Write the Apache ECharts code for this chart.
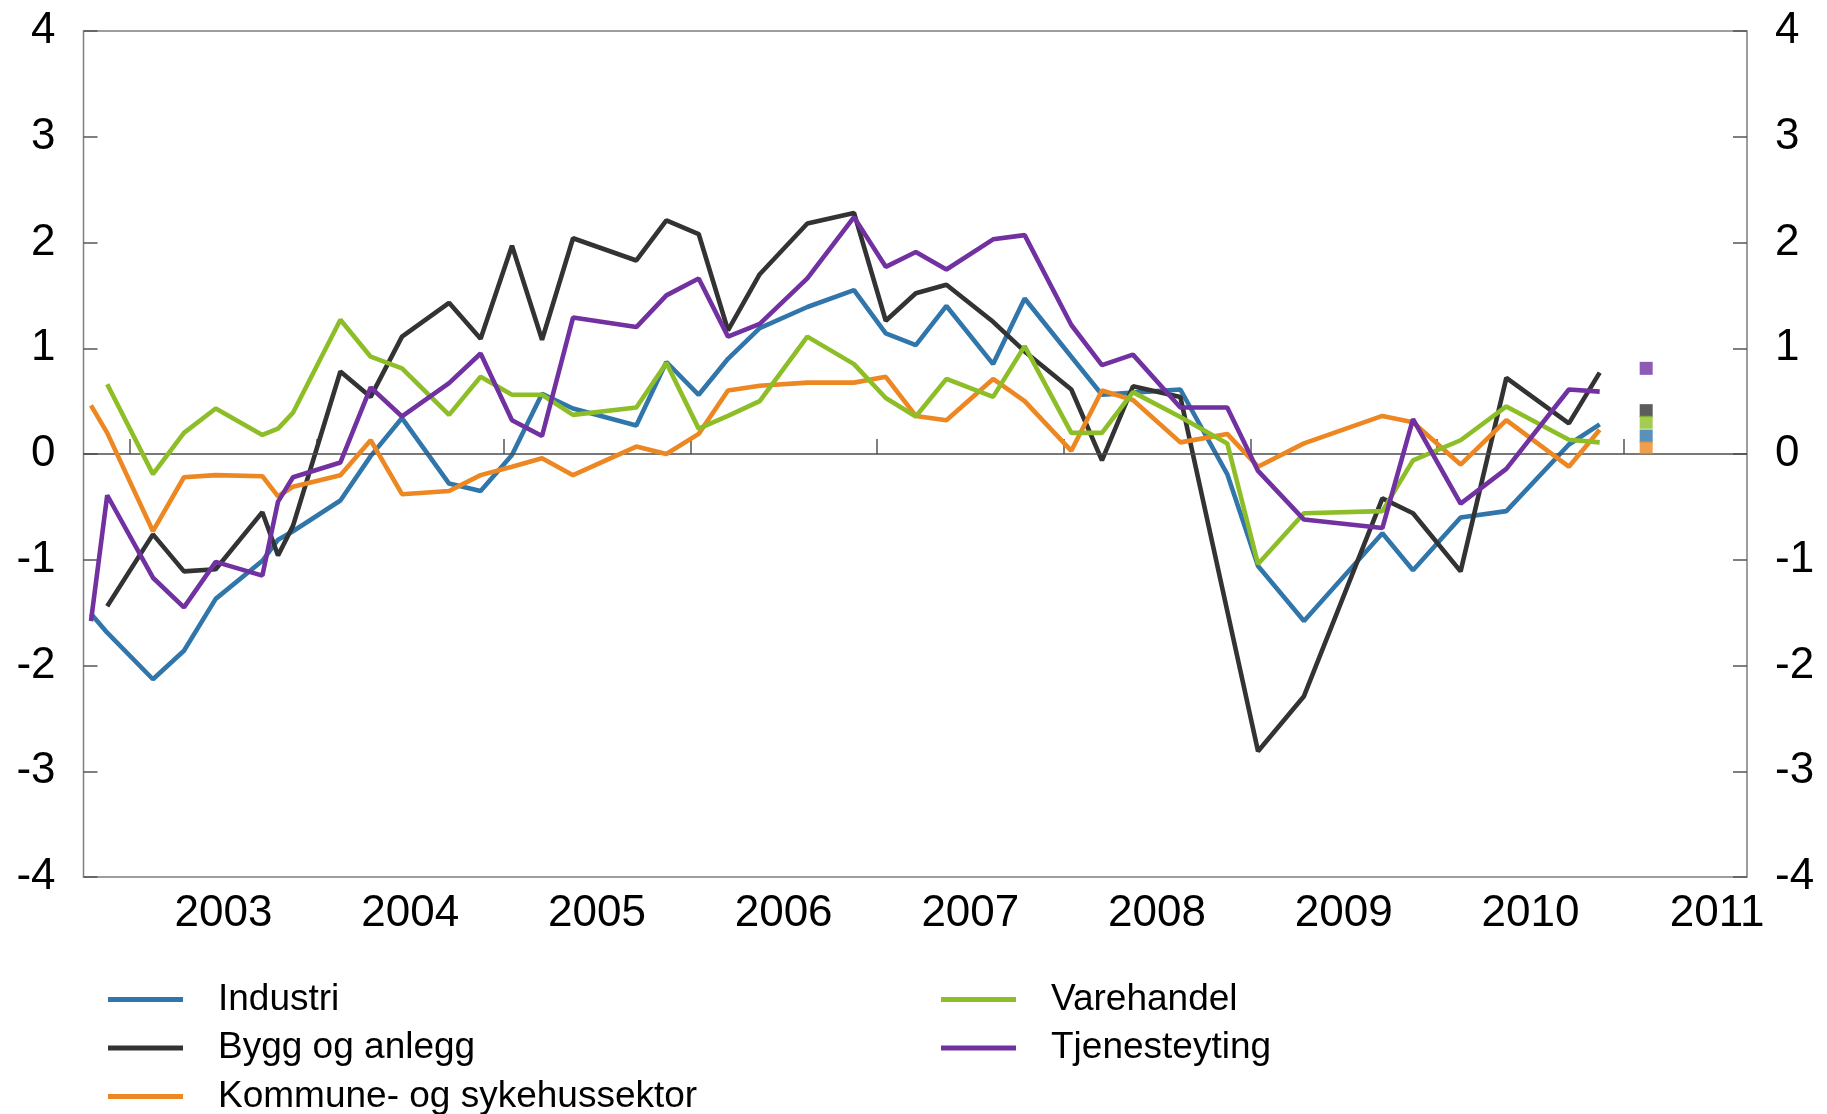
<!DOCTYPE html>
<html>
<head>
<meta charset="utf-8">
<script src="https://cdn.jsdelivr.net/npm/echarts@6/dist/echarts.min.js"></script>
<style>
html,body{margin:0;padding:0;background:#fff;}
#chart{width:1827px;height:1114px;}
</style>
</head>
<body>
<div id="chart"></div>
<script>
// Survey dates (decimal years)
const dates = [
  2002.79, 2002.877, 2003.122, 2003.288, 2003.458, 2003.708, 2003.792, 2003.872,
  2004.126, 2004.288, 2004.456, 2004.708, 2004.877,
  2005.045, 2005.206, 2005.372, 2005.711, 2005.872,
  2006.045, 2006.202, 2006.372, 2006.627, 2006.877,
  2007.047, 2007.208, 2007.372, 2007.622, 2007.791,
  2008.041, 2008.205, 2008.371, 2008.625, 2008.876,
  2009.041, 2009.287, 2009.707, 2009.871,
  2010.126, 2010.371, 2010.706, 2010.871
];

const industri = [
  -1.51, -1.69, -2.13, -1.86, -1.37, -1.01, -0.81, -0.73,
  -0.44, -0.02, 0.34, -0.28, -0.35,
  -0.01, 0.57, 0.43, 0.27, 0.87,
  0.56, 0.90, 1.19, 1.39, 1.55,
  1.14, 1.03, 1.40, 0.85, 1.47,
  0.92, 0.56, 0.58, 0.61, -0.19,
  -1.06, -1.58, -0.75, -1.10,
  -0.60, -0.54, 0.09, 0.28
];

const byggAnlegg = [
  null, -1.44, -0.76, -1.11, -1.09, -0.55, -0.96, -0.68,
  0.78, 0.54, 1.11, 1.43, 1.09,
  1.97, 1.08, 2.04, 1.83, 2.21,
  2.08, 1.17, 1.70, 2.18, 2.28,
  1.26, 1.52, 1.60, 1.25, 0.97,
  0.61, -0.06, 0.64, 0.54, null,
  -2.81, -2.29, -0.42, -0.56,
  -1.11, 0.72, 0.29, 0.77
];

const kommune = [
  0.46, 0.20, -0.73, -0.22, -0.20, -0.21, -0.40, -0.31,
  -0.20, 0.13, -0.38, -0.35, -0.20,
  -0.12, -0.04, -0.20, 0.07, 0.00,
  0.19, 0.60, 0.645, 0.675, 0.675,
  0.73, 0.36, 0.32, 0.71, 0.50,
  0.03, 0.60, 0.51, 0.11, 0.19,
  -0.12, 0.10, 0.36, 0.30,
  -0.10, 0.32, -0.12, 0.23
];

const varehandel = [
  null, 0.66, -0.19, 0.20, 0.43, 0.18, 0.24, 0.39,
  1.27, 0.92, 0.81, 0.37, 0.73,
  0.56, 0.56, 0.37, 0.44, 0.86,
  0.24, 0.36, 0.50, 1.11, 0.85,
  0.53, 0.355, 0.71, 0.54, 1.02,
  0.20, 0.20, 0.585, 0.35, 0.10,
  -1.04, -0.56, -0.54, -0.06,
  0.13, 0.45, 0.135, 0.11
];

const tjenesteyting = [
  -1.58, -0.39, -1.17, -1.45, -1.02, -1.15, -0.45, -0.22,
  -0.08, 0.63, 0.355, 0.67, 0.95,
  0.32, 0.17, 1.29, 1.20, 1.50,
  1.66, 1.11, 1.23, 1.66, 2.24,
  1.77, 1.91, 1.745, 2.03, 2.07,
  1.22, 0.84, 0.94, 0.44, 0.44,
  -0.16, -0.62, -0.70, 0.33,
  -0.47, -0.14, 0.61, 0.59
];

// Expectations for next period (squares)
const expectDate = 2011.12;
const expectIndustri = 0.17;
const expectBygg = 0.41;
const expectKommune = 0.06;
const expectVarehandel = 0.30;
const expectTjeneste = 0.81;

const yearLabels = ['2003','2004','2005','2006','2007','2008','2009','2010','2011'];
const yTicks = [-4,-3,-2,-1,0,1,2,3,4];

const names = ['Industri','Bygg og anlegg','Kommune- og sykehussektor','Varehandel','Tjenesteyting'];
const colors = ['#3176AA','#333333','#EC8722','#8DBE28','#7131A1'];
const values = [industri, byggAnlegg, kommune, varehandel, tjenesteyting];
const expects = [expectIndustri, expectBygg, expectKommune, expectVarehandel, expectTjeneste];

const FONT = "'Liberation Sans', Arial, sans-serif";

function pairs(vals){
  return dates.map((d,i)=>[d, vals[i]]).filter(p=>p[1]!==null);
}

const lineSeries = names.map((n,i)=>({
  name: n,
  type: 'line',
  data: pairs(values[i]),
  showSymbol: false,
  symbol: 'none',
  lineStyle: {color: colors[i], width: 4.6},
  itemStyle: {color: colors[i]},
  color: colors[i],
  z: 3 + i,
  silent: true
}));

const zeroSeries = {
  type: 'line',
  data: [],
  silent: true,
  z: 2,
  markLine: {
    silent: true,
    symbol: 'none',
    label: {show: false},
    lineStyle: {color: '#4d4d4d', width: 1.6, type: 'solid'},
    data: [{yAxis: 0}]
  }
};

const scatterOrder = [4,1,3,0,2];
const expectSeries = scatterOrder.map((i,k)=>({
  type: 'scatter',
  data: [[expectDate, expects[i]]],
  symbol: 'rect',
  symbolSize: 13,
  itemStyle: {color: colors[i]},
  z: 10 + k,
  silent: true
}));

const yAxisCommon = {
  type: 'value',
  min: -4, max: 4, interval: 1,
  axisLine: {show: false},
  splitLine: {show: false},
  axisTick: {show: true, inside: true, length: 14, lineStyle: {color: '#555', width: 1.5}},
};

const legendCommon = {
  orient: 'vertical', top: 981, height: 300, padding: 0,
  icon: 'rect', itemWidth: 75, itemHeight: 5, itemGap: 11.5,
  selectedMode: false,
  textStyle: {fontSize: 37, color: '#000', fontFamily: FONT, lineHeight: 37, padding: [0,0,0,30]}
};

const chart = echarts.init(document.getElementById('chart'), null, {renderer: 'canvas'});
chart.setOption({
  animation: false,
  backgroundColor: '#fff',
  grid: {
    left: 83.5, right: 80, top: 31, bottom: 237,
    show: true, borderColor: '#7f7f7f', borderWidth: 1.5, backgroundColor: 'transparent'
  },
  xAxis: {
    type: 'value',
    min: 2002.75, max: 2011.66,
    axisLine: {show: false},
    splitLine: {show: false},
    axisTick: {
      show: true, inside: true, length: 15,
      customValues: yearLabels.map(y=>+y),
      lineStyle: {color: '#555', width: 1.5}
    },
    axisLabel: {
      show: true,
      customValues: yearLabels.map(y=>+y + 0.5),
      formatter: v => yearLabels[Math.round(v - 0.5) - 2003],
      fontSize: 44, color: '#000', fontFamily: FONT, margin: 15
    }
  },
  yAxis: [
    Object.assign({}, yAxisCommon, {
      position: 'left',
      axisLabel: {fontSize: 44, color: '#000', fontFamily: FONT, margin: 28,
        formatter: v => String(yTicks[yTicks.indexOf(v)])}
    }),
    Object.assign({}, yAxisCommon, {
      position: 'right',
      axisLabel: {fontSize: 44, color: '#000', fontFamily: FONT, margin: 28,
        formatter: v => String(yTicks[yTicks.indexOf(v)])}
    })
  ],
  legend: [
    Object.assign({}, legendCommon, {data: names.slice(0,3), left: 108}),
    Object.assign({}, legendCommon, {data: names.slice(3), left: 941})
  ],
  series: [zeroSeries].concat(lineSeries, expectSeries)
});
</script>
</body>
</html>
